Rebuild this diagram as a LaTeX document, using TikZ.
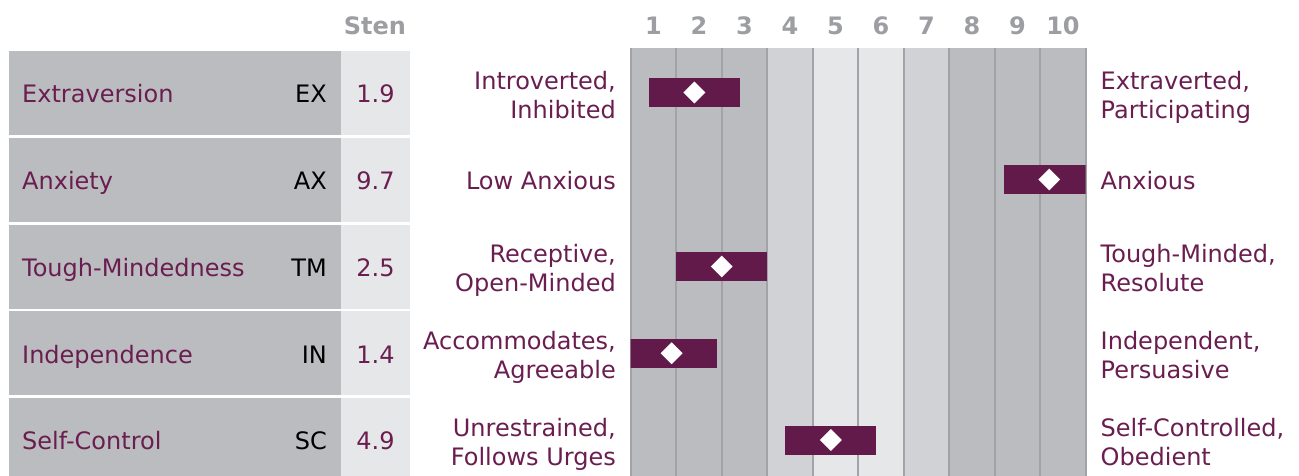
\documentclass[tikz,border=0pt]{standalone}
\usepackage{fontspec}
\setmainfont{DejaVu Sans}
\usetikzlibrary{shapes.geometric}
\definecolor{plum}{HTML}{6A1E50}
\definecolor{barc}{HTML}{621A4A}
\definecolor{dk}{HTML}{BBBCC0}
\definecolor{md}{HTML}{D1D2D5}
\definecolor{lt}{HTML}{E6E7E9}
\definecolor{gl}{HTML}{A2A3A7}
\definecolor{hd}{HTML}{9D9EA2}
\begin{document}
\begin{tikzpicture}[x=1pt,y=-1pt,
  base/.style={inner sep=0pt, font=\fontsize{24}{29}\selectfont},
  one/.style={base, text height=17.5pt, text depth=0pt, yshift=-1pt},
  two/.style={base, text depth=0pt, yshift=-1.5pt},
  hdr/.style={one, font=\fontsize{24}{29}\selectfont\bfseries, text=hd},
  lbl/.style={one, text=plum, anchor=west},
  abbr/.style={one, text=black, anchor=east},
  val/.style={one, text=plum},
  ltxt/.style={two, text=plum, anchor=east, align=right},
  rtxt/.style={two, text=plum, anchor=west, align=left},
  dia/.style={diamond, fill=white, inner sep=0pt, minimum width=22pt, minimum height=22pt}]
\useasboundingbox (0,0) rectangle (1299,476);
% table rows
\foreach \y in {93,179.75,266.5,353.25,440}{
  \fill[dk] (9,{\y-42}) rectangle (341,{\y+42});
  \fill[lt] (341,{\y-42}) rectangle (410,{\y+42});
}
% grid columns
\foreach \c [count=\k] in {dk,dk,dk,md,lt,lt,md,dk,dk,dk}{
  \fill[\c] ({630.7+(\k-1)*45.5},48) rectangle ({630.7+\k*45.5},476);
}
\foreach \k in {0,...,10}{
  \draw[gl, line width=1.6pt] ({630.7+\k*45.5},48) -- ({630.7+\k*45.5},476);
}
% header
\node[hdr] (sten) at (375,25) {Sten};
\foreach \k in {1,...,10}{
  \node[hdr] (h\k) at ({630.7+(\k-0.5)*45.5},25) {\k};
}
% bars
\begin{scope}
\clip (630.7,48) rectangle (1085.7,476);
\foreach \v/\y in {1.9/92.5,9.7/179.5,2.5/266.5,1.4/353.25,4.9/440}{
  \fill[barc] ({630.7+(\v-1.5)*45.5},{\y-14.5}) rectangle ({630.7+(\v+0.5)*45.5},{\y+14.5});
}
\end{scope}
\foreach \v/\y [count=\i] in {1.9/92.5,9.7/179.5,2.5/266.5,1.4/353.25,4.9/440}{
  \node[dia] (d\i) at ({630.7+(\v-0.5)*45.5},\y) {};
}
% row texts
\node[lbl] (n1) at (22,93) {Extraversion};
\node[abbr] (a1) at (327,93) {EX};
\node[val] (v1) at (375.5,93) {1.9};
\node[lbl] (n2) at (22,179.75) {Anxiety};
\node[abbr] (a2) at (327,179.75) {AX};
\node[val] (v2) at (375.5,179.75) {9.7};
\node[lbl] (n3) at (22,266.5) {Tough-Mindedness};
\node[abbr] (a3) at (327,266.5) {TM};
\node[val] (v3) at (375.5,266.5) {2.5};
\node[lbl] (n4) at (22,353.25) {Independence};
\node[abbr] (a4) at (327,353.25) {IN};
\node[val] (v4) at (375.5,353.25) {1.4};
\node[lbl] (n5) at (22,440) {Self-Control};
\node[abbr] (a5) at (327,440) {SC};
\node[val] (v5) at (375.5,440) {4.9};
% scale labels
\node[ltxt] (l1) at (616,93) {Introverted,\\Inhibited};
\node[one, text=plum, anchor=east] (l2) at (616,179.75) {Low Anxious};
\node[ltxt] (l3) at (616,266.5) {Receptive,\\Open-Minded};
\node[ltxt] (l4) at (616,353.25) {Accommodates,\\Agreeable};
\node[ltxt] (l5) at (616,440) {Unrestrained,\\Follows Urges};
\node[rtxt] (r1) at (1100.5,93) {Extraverted,\\Participating};
\node[one, text=plum, anchor=west] (r2) at (1100.5,179.75) {Anxious};
\node[rtxt] (r3) at (1100.5,266.5) {Tough-Minded,\\Resolute};
\node[rtxt] (r4) at (1100.5,353.25) {Independent,\\Persuasive};
\node[rtxt] (r5) at (1100.5,440) {Self-Controlled,\\Obedient};
\end{tikzpicture}
\end{document}
